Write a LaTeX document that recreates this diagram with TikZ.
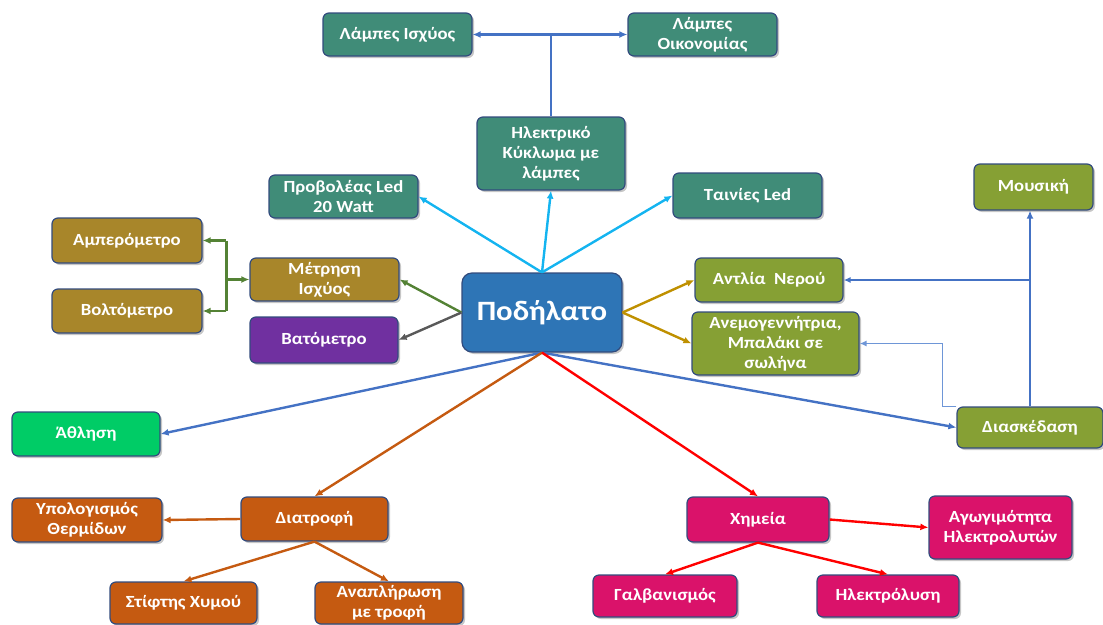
\documentclass[tikz,border=0pt]{standalone}
\usepackage{fontspec}
\setmainfont{Carlito}[FakeStretch=1.1]
\usetikzlibrary{arrows.meta,shadows}
\definecolor{teal1}{RGB}{64,140,120}
\definecolor{brown1}{RGB}{168,134,42}
\definecolor{purple1}{RGB}{112,48,160}
\definecolor{blue1}{RGB}{46,117,182}
\definecolor{olive1}{RGB}{134,160,52}
\definecolor{green1}{RGB}{0,204,102}
\definecolor{orange1}{RGB}{197,90,17}
\definecolor{pink1}{RGB}{218,18,106}
\definecolor{border1}{RGB}{50,75,125}
\definecolor{cyan1}{RGB}{20,180,240}
\definecolor{lblue}{RGB}{68,114,196}
\definecolor{lblue2}{RGB}{110,150,215}
\definecolor{lgreen}{RGB}{84,130,53}
\definecolor{lgray}{RGB}{89,89,89}
\definecolor{lgold}{RGB}{191,144,0}
\definecolor{lred}{RGB}{255,0,0}
\tikzset{
  box/.style={draw=border1, line width=1.2pt, rounded corners=6pt, text=white,
    font=\bfseries\fontsize{17}{20}\selectfont, align=center, inner sep=0pt,
    drop shadow={shadow xshift=2pt, shadow yshift=-2pt, opacity=0.45}},
  conn/.style={line width=2.4pt, -{Latex[length=8pt,width=7pt]}},
  thinconn/.style={line width=1.6pt, -{Latex[length=7pt,width=6pt]}},
}
\begin{document}
\begin{tikzpicture}[x=1pt,y=-1pt]
\useasboundingbox (0,0) rectangle (1103,624);
% nodes
\node[box, fill=teal1, minimum width=149pt, minimum height=43pt] (lisx) at (397.5,34.5) {Λάμπες Ισχύος};
\node[box, fill=teal1, minimum width=149pt, minimum height=43pt] (loik) at (702.5,34.5) {Λάμπες\\Οικονομίας};
\node[box, fill=teal1, minimum width=148pt, minimum height=73pt] (ilek) at (551,153.5) {Ηλεκτρικό\\Κύκλωμα με\\λάμπες};
\node[box, fill=teal1, minimum width=149pt, minimum height=43pt] (prob) at (343.5,196.5) {Προβολέας Led\\20 Watt};
\node[box, fill=teal1, minimum width=149pt, minimum height=45pt] (tain) at (747.5,195.5) {Ταινίες Led};
\node[box, fill=olive1, minimum width=119pt, minimum height=46pt] (mous) at (1033.5,187) {Μουσική};
\node[box, fill=brown1, minimum width=150pt, minimum height=45pt] (amp) at (127,240.5) {Αμπερόμετρο};
\node[box, fill=brown1, minimum width=150pt, minimum height=44pt] (volt) at (127,311) {Βολτόμετρο};
\node[box, fill=brown1, minimum width=149pt, minimum height=43pt] (metr) at (324.5,279.5) {Μέτρηση\\Ισχύος};
\node[box, fill=purple1, minimum width=148pt, minimum height=46pt] (vat) at (324,340) {Βατόμετρο};
\node[box, fill=blue1, minimum width=160pt, minimum height=79pt, font=\bfseries\fontsize{28}{30}\selectfont, rounded corners=10pt] (pod) at (542,312.5) {Ποδήλατο};
\node[box, fill=olive1, minimum width=148pt, minimum height=44pt] (antl) at (769,280) {Αντλία\ \ Νερού};
\node[box, fill=olive1, minimum width=167pt, minimum height=63pt] (anem) at (775.5,343.5) {Ανεμογεννήτρια,\\Μπαλάκι σε\\σωλήνα};
\node[box, fill=olive1, minimum width=146pt, minimum height=41pt] (diask) at (1030,427.5) {Διασκέδαση};
\node[box, fill=green1, minimum width=148pt, minimum height=44pt] (athl) at (86,434) {Άθληση};
\node[box, fill=orange1, minimum width=150pt, minimum height=44pt] (ypol) at (87,520) {Υπολογισμός\\Θερμίδων};
\node[box, fill=orange1, minimum width=147pt, minimum height=44pt] (diat) at (314.5,519) {Διατροφή};
\node[box, fill=orange1, minimum width=147pt, minimum height=42pt] (stif) at (183.5,603) {Στίφτης Χυμού};
\node[box, fill=orange1, minimum width=148pt, minimum height=42pt] (anapl) at (389,603) {Αναπλήρωση\\με τροφή};
\node[box, fill=pink1, minimum width=142pt, minimum height=45pt] (xim) at (758,519.5) {Χημεία};
\node[box, fill=pink1, minimum width=143pt, minimum height=63pt] (agog) at (1000.5,527.5) {Αγωγιμότητα\\Ηλεκτρολυτών};
\node[box, fill=pink1, minimum width=144pt, minimum height=42pt] (galv) at (665,596) {Γαλβανισμός};
\node[box, fill=pink1, minimum width=142pt, minimum height=42pt] (ilekl) at (888,596) {Ηλεκτρόλυση};
% top
\draw[conn, cyan1] (pod.north) -- (prob.east);
\draw[conn, cyan1] (pod.north) -- (ilek.south);
\draw[conn, cyan1] (pod.north) -- (tain.west);
\coordinate (tj) at (ilek.north |- lisx.east);
\draw[line width=2.4pt, lblue] (ilek.north) -- (tj);
\draw[conn, lblue] (tj) -- (lisx.east);
\draw[conn, lblue] (tj) -- (loik.west);
% left
\draw[conn, lgreen] (pod.west) -- (metr.east);
\draw[conn, lgray] (pod.west) -- (vat.east);
\coordinate (gj) at ([xshift=-23pt]metr.west);
\draw[line width=2.4pt, lgreen] (gj |- amp.east) -- (gj |- volt.east);
\draw[conn, lgreen] (gj) -- (metr.west);
\draw[conn, lgreen] (gj |- amp.east) -- (amp.east);
\draw[conn, lgreen] (gj |- volt.east) -- (volt.east);
% right
\draw[conn, lgold] (pod.east) -- (antl.west);
\draw[conn, lgold] (pod.east) -- (anem.west);
\draw[conn, lblue] (pod.south) -- (diask.west);
\coordinate (mj) at (diask.north |- mous.south);
\draw[conn, lblue] (diask.north) -- (mj);
\draw[thinconn, lblue] (diask.north |- antl.east) -- (antl.east);
\coordinate (dw) at ([xshift=-14pt]diask.north west);
\draw[thinconn, lblue2] (diask.north west) -- (dw) |- (anem.east);
% bottom
\draw[conn, lblue] (pod.south) -- (athl.east);
\draw[conn, orange1] (pod.south) -- (diat.north);
\draw[conn, orange1] (diat.west) -- (ypol.east);
\draw[conn, orange1] (diat.south) -- (stif.north);
\draw[conn, orange1] (diat.south) -- (anapl.north);
\draw[conn, lred] (pod.south) -- (xim.north);
\draw[conn, lred] (xim.east) -- (agog.west);
\draw[conn, lred] (xim.south) -- (galv.north);
\draw[conn, lred] (xim.south) -- (ilekl.north);
\end{tikzpicture}
\end{document}
